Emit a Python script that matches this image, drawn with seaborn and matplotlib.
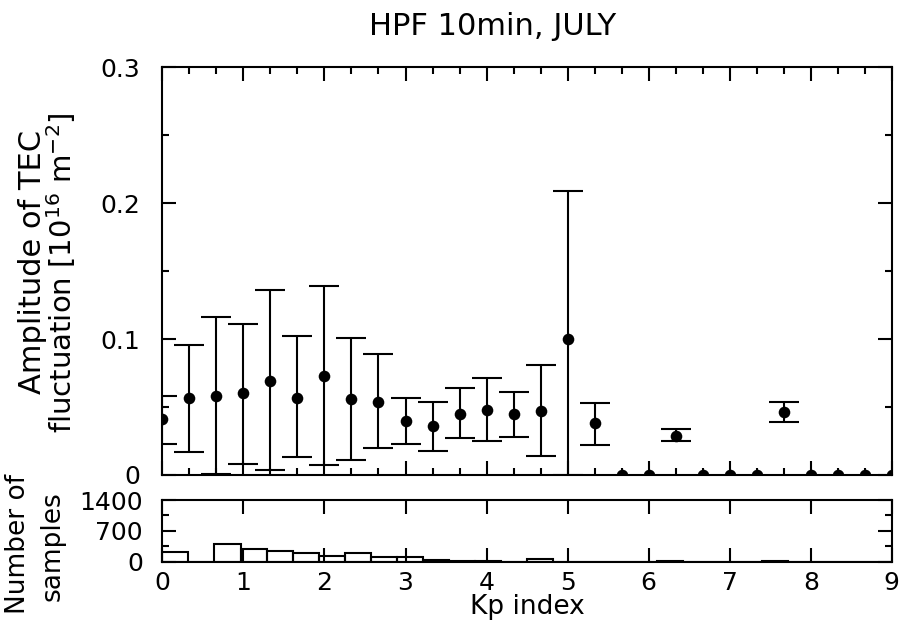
import numpy as np
import pandas as pd
import matplotlib
matplotlib.use("Agg")
import matplotlib.pyplot as plt
from matplotlib.ticker import MultipleLocator, FixedLocator
import seaborn as sns

# Kp bins (thirds) and amplitude of TEC fluctuation, with lower/upper bounds
kp = [0, 1/3, 2/3, 1, 4/3, 5/3, 2, 7/3, 8/3, 3, 10/3, 11/3, 4, 13/3, 14/3,
      5, 16/3, 17/3, 6, 19/3, 20/3, 7, 22/3, 23/3, 8, 25/3, 26/3, 9]
amp = [0.041, 0.057, 0.058, 0.060, 0.069, 0.057, 0.073, 0.056, 0.054, 0.040,
       0.036, 0.045, 0.048, 0.045, 0.047, 0.100, 0.038, 0, 0, 0.029,
       0, 0, 0, 0.046, 0, 0, 0, 0]
amp_lo = [0.023, 0.017, 0.001, 0.008, 0.004, 0.013, 0.007, 0.011, 0.020, 0.023,
          0.018, 0.027, 0.025, 0.028, 0.014, 0.0, 0.022, 0, 0, 0.025,
          0, 0, 0, 0.039, 0, 0, 0, 0]
amp_hi = [0.058, 0.096, 0.116, 0.111, 0.136, 0.102, 0.139, 0.101, 0.089, 0.057,
          0.054, 0.064, 0.071, 0.061, 0.081, 0.209, 0.053, 0, 0, 0.034,
          0, 0, 0, 0.054, 0, 0, 0, 0]
# number of samples per Kp bin
counts = [212, 0, 401, 280, 235, 204, 129, 189, 113, 100, 45, 25, 25, 5,
          52, 5, 5, 0, 0, 8, 0, 0, 0, 8, 0, 0, 0, 0]

sns.set_style("ticks")
plt.rcParams['font.family'] = ['DejaVu Sans']
plt.rcParams['axes.linewidth'] = 1.5
plt.rcParams['text.color'] = 'black'
plt.rcParams['xtick.color'] = 'black'
plt.rcParams['ytick.color'] = 'black'

df = pd.DataFrame({'kp': kp, 'amp': amp, 'lo': amp_lo, 'hi': amp_hi,
                   'n': counts})
err = df[df['amp'] > 0]

fig = plt.figure(figsize=(9.02, 6.24), dpi=100)
ax1 = fig.add_axes([0.18, 0.2388, 0.8087, 0.6534])
ax2 = fig.add_axes([0.18, 0.0998, 0.8087, 0.0989])

# top panel: mean amplitude with error bars
ax1.errorbar(err['kp'], err['amp'],
             yerr=[err['amp'] - err['lo'], err['hi'] - err['amp']],
             fmt='none', ecolor='black', elinewidth=1.5, capsize=10.8,
             capthick=1.5)
sns.scatterplot(data=df, x='kp', y='amp', ax=ax1, color='black', s=70,
                linewidth=0, zorder=3)
ax1.set_xlim(0, 9)
ax1.set_ylim(0, 0.3)
ax1.set_xlabel('')
ax1.set_ylabel('')
ax1.xaxis.set_major_locator(MultipleLocator(1))
ax1.xaxis.set_minor_locator(FixedLocator(kp))
ax1.set_yticks([0, 0.1, 0.2, 0.3])
ax1.set_yticklabels(['0', '0.1', '0.2', '0.3'])
ax1.yaxis.set_minor_locator(MultipleLocator(0.05))
ax1.tick_params(which='both', direction='in', top=True, right=True,
                width=1.5)
ax1.tick_params(which='major', length=10)
ax1.tick_params(which='minor', length=5)
ax1.tick_params(axis='x', labelbottom=False)
ax1.tick_params(axis='y', labelsize=18, pad=16)

# bottom panel: number of samples
sns.histplot(data=df, x='kp', weights='n', bins=len(kp), binrange=(0, 9),
             ax=ax2, fill=False, color='black', linewidth=1.5, element='bars')
ax2.set_xlim(0, 9)
ax2.set_ylim(0, 1400)
ax2.set_xlabel('')
ax2.set_ylabel('')
ax2.xaxis.set_major_locator(MultipleLocator(1))
ax2.set_yticks([0, 700, 1400])
ax2.yaxis.set_minor_locator(MultipleLocator(350))
ax2.tick_params(which='both', direction='in', top=True, right=True,
                width=1.5)
ax2.tick_params(which='major', length=10)
ax2.tick_params(which='minor', length=5)
ax2.tick_params(axis='x', labelsize=18, pad=7)
ax2.tick_params(axis='y', labelsize=18, pad=14)

for a in (ax1, ax2):
    for sp in a.spines.values():
        sp.set_visible(True)
        sp.set_color('black')

fig.text(0.5466, 0.957, 'HPF 10min, JULY', ha='center', va='center',
         fontsize=22)
fig.text(0.5845, 0.027, 'Kp index', ha='center', va='center', fontsize=19)
fig.text(0.036, 0.58, 'Amplitude of TEC', rotation=90, ha='center',
         va='center', fontsize=22)
fig.text(0.068, 0.563, r'fluctuation [10$^{16}$ m$^{-2}$]', rotation=90,
         ha='center', va='center', fontsize=21)
fig.text(0.02, 0.128, 'Number of', rotation=90, ha='center', va='center',
         fontsize=19)
fig.text(0.058, 0.125, 'samples', rotation=90, ha='center', va='center',
         fontsize=19)

fig.savefig('out.png', dpi=100)
